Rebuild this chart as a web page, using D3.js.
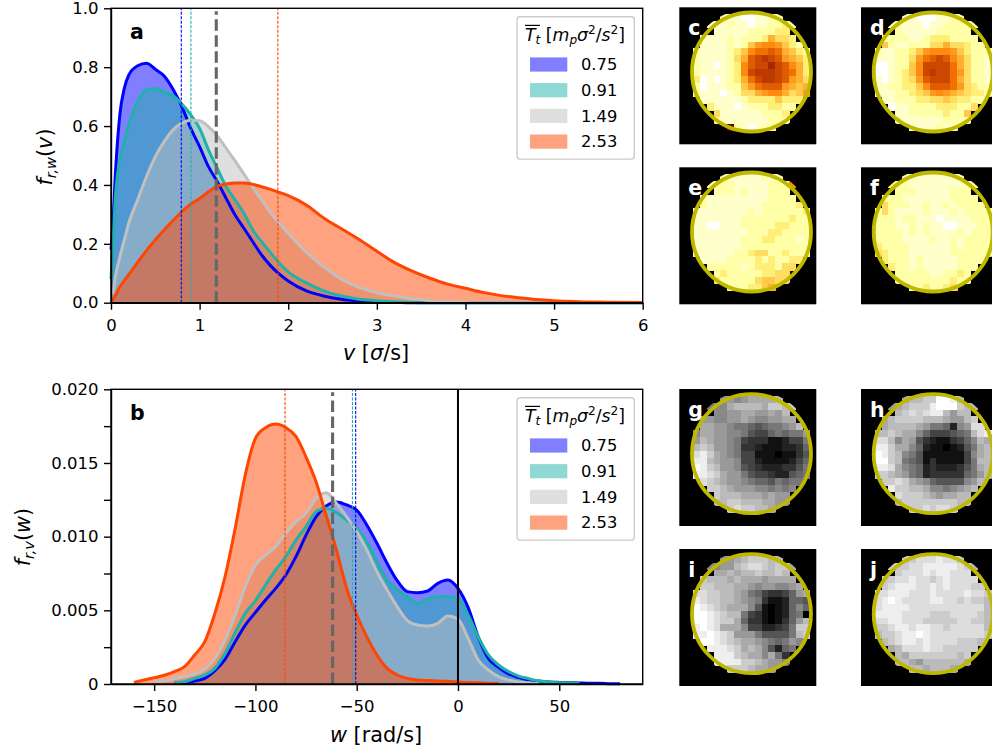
<!DOCTYPE html>
<html>
<head>
<meta charset="utf-8">
<script src="https://cdn.jsdelivr.net/npm/d3@7"></script>
<style>
  html, body { margin: 0; padding: 0; background: #fff; overflow: hidden; }
  svg { display: block; }
  text { font-family: "DejaVu Sans", sans-serif; fill: #000; }
  .axis path, .axis line { stroke: #000; stroke-width: 1.4; }
  .axis text { font-size: 16.5px; font-family: "DejaVu Sans", sans-serif; }
</style>
</head>
<body>
<div id="fig"></div>
<script>
// ############ data ############
const temps = ["0.75", "0.91", "1.49", "2.53"];
const colors = ["#0000ff", "#20b2aa", "#c0c0c0", "#ff4500"];

const vGrid = [0,0.02,0.05,0.1,0.15,0.2,0.3,0.4,0.5,0.6,0.7,0.8,0.9,1,1.1,1.2,1.3,1.4,1.5,1.6,1.7,1.8,1.9,2,2.2,2.4,2.6,2.8,3,3.2,3.4,3.6,3.8,4,4.2,4.4,4.6,4.8,5,5.5,6];
const fvBlue = [0.18,0.26,0.44,0.64,0.728,0.773,0.805,0.813,0.793,0.77,0.725,0.666,0.592,0.53,0.462,0.411,0.354,0.298,0.253,0.207,0.162,0.126,0.097,0.074,0.041,0.023,0.012,0.006,0.002,0.001,0,0,0,0,0,0,0,0,0,0,0];
const fvTeal = [0.08,0.19,0.36,0.485,0.547,0.604,0.683,0.723,0.728,0.715,0.703,0.675,0.638,0.592,0.519,0.456,0.394,0.349,0.304,0.247,0.207,0.17,0.134,0.105,0.068,0.04,0.023,0.012,0.007,0.003,0.001,0,0,0,0,0,0,0,0,0,0];
const fvGrey = [0.03,0.035,0.09,0.156,0.213,0.27,0.349,0.428,0.496,0.547,0.587,0.61,0.62,0.618,0.598,0.566,0.524,0.482,0.437,0.392,0.349,0.306,0.27,0.236,0.173,0.122,0.08,0.052,0.034,0.023,0.013,0.007,0.003,0.001,0,0,0,0,0,0,0];
const fvOrange = [0.005,0.01,0.025,0.054,0.075,0.095,0.137,0.177,0.213,0.247,0.279,0.309,0.335,0.354,0.377,0.396,0.403,0.407,0.407,0.402,0.394,0.385,0.375,0.364,0.333,0.288,0.251,0.215,0.175,0.136,0.107,0.083,0.063,0.049,0.035,0.024,0.017,0.011,0.007,0.002,0.0005];
const vMeans = [0.793, 0.902, 1.883];
const vMeanAll = 1.188;

const wGrid = [-160,-155,-150,-145,-140,-135,-130,-125,-120,-115,-110,-105,-100,-95,-90,-85,-80,-75,-70,-65,-60,-55,-50,-45,-40,-35,-30,-25,-20,-15,-10,-5,0,5,10,15,20,25,30,35,40,45,50,55,60,65,70,75,80];
// values in units of 0.001, null where the curve has no data
const fwBlue = [null,null,null,null,0.05,0.09,0.2,0.38,0.9,1.67,2.87,4,4.86,5.7,6.49,7.4,8.64,10.1,11.36,12.08,12.35,12.15,11.81,10.79,9.55,8.19,7.01,6.27,6.2,6.31,6.83,7.06,6.49,5.2,3.2,1.74,1.13,0.68,0.45,0.27,0.2,0.14,0.11,0.09,0.07,0.05,0.05,0.02,0.02];
const fwTeal = [null,null,null,null,0.09,0.16,0.38,0.61,1.06,2.08,3.48,4.8,5.66,6.72,7.74,8.64,9.77,10.68,11.7,11.92,11.63,11.13,10.56,9.66,8.3,7.06,6.38,5.93,5.47,5.77,5.93,5.93,5.81,4.68,3.2,1.97,1.29,0.84,0.54,0.36,0.2,0.14,0.09,0.07,0.02,null,null,null,null];
const fwGrey = [null,null,0.16,0.2,0.36,0.5,0.68,1,1.74,2.99,4.68,6.6,8.08,8.75,9.32,10.22,11,11.58,12.6,12.98,12.26,11.36,10.34,9.1,7.62,6.38,5.25,4.3,4,3.94,4.12,4.61,4.41,3.1,1.63,0.95,0.5,0.27,0.14,0.09,0.02,null,null,null,null,null,null,null,null];
const fwOrange = [0.11,0.27,0.43,0.59,0.84,1.18,1.97,2.87,4.8,7.28,10.56,14.2,16.67,17.4,17.64,17.4,16.8,15.4,13.7,11.4,9.1,6.5,4.7,3.2,1.97,1.06,0.61,0.38,0.27,0.23,0.2,0.18,0.14,0.1,0.08,0.05,0.03,null,null,null,null,null,null,null,null,null,null,null,null];
const wMeans = [-50.5, -52.1, -85.4];
const wMeanAll = -61.9;

const vTicks = [0, 1, 2, 3, 4, 5, 6];
const fvTicks = [0, 0.2, 0.4, 0.6, 0.8, 1];
const wTicks = [-150, -100, -50, 0, 50];
const fwTicks = [0, 0.0025, 0.005, 0.0075, 0.01, 0.0125, 0.015, 0.0175, 0.02];
const fwTickLabels = ["0", "", "0.005", "", "0.010", "", "0.015", "", "0.020"];

// cell levels 0-f, "." is an empty (black) cell
const cellsC = ["....................","......211001122.....","....1112110112232...",".....11111222233....","...11112122236443...","...111121257887532..","..21111235899a96532.","..21111246abcba7653.","..21101238abbdba863.","..21111238bcccba963.","..301012369bccba764.","..2011122579aaa7656.","..21110124467886457.","...111111233335333..","....3111012223322...",".....41111112223....",".....21111111222....",".......f210122......"];
const cellsD = ["....................","......110001122.....","....2211101122222...",".....21111122222....","...22221123332222...","...521122244644322..","..21122357888753222.","..11122479aba864221.","..0012258bbbb964221.","..0012358bcbb974221.","..1012347abbb964221.","..11223358aaa974322.","..11122345787654332.","...112223344543322..","....0112222333224...",".....11222223225....",".....21111112222....",".......1111211......"];
const cellsE = ["....................","......211111212.....","....2222111112228...",".....22212111222....","...21111111112222...","...211111111222223..","..11111111212222223.","..11111112222222322.","..11001112222233222.","..11111111222332222.","..11111112223322212.","..11111112222222222.","..11111122344223222.","...111122223232233..","....2222212333244...",".....23222223344....",".....32222245544....",".......2223356......"];
const cellsF = ["....................","......211111112.....","....3221111111122...",".....22211111222....","...22211111112222...","...422211211212222..","..24211112111212222.","..22212211101111222.","..22211212110011122.","..22221212111121222.","..22221111211212222.","..32222111111212222.","..43222111111222222.","...322212111112222..","....3221211111222...",".....22222112232....",".....22222222322....",".......2232234......"];
const cellsG = ["....................","......667655554.....","....8775444453343...",".....77665566564....","...66776656776655...","...55667889a988764..","..75566778abb989886.","..6456678bccceedbb8.","..4346678ccdeeeddc9.","..2135678bbeeefeeca.","..1145667bbdeeeedb9.","..0134667abcdddcca8.","..11235668abbcdda98.","...2345667899a8988..","....3345666778787...",".....34445556566....",".....44334445566....",".......3233445......"];
const cellsH = ["....................","......544330014.....","....6543331000344...",".....43232114644....","...54333344456643...","...5444456889d7622..","..44345579bbba98421.","..224756acdeecb9745.","..1135579deefeda854.","..013478aeeeeeeb754.","..003489aeceeeeb844.","..1125789dcdddca854.","..3345689dccccc9864.","...33235679aaaa764..","....1334457787654...",".....23334565544....",".....43333333344....",".......3323223......"];
const cellsI = ["....................","......665433344.....","....7766432234335...",".....55454434434....","...34445455565555...","...334445567667765..","..2233445689bccb965.","..1233445678ceed99a.","..012345557aefed979.","..00123448bcefed98f.","..00123359ccefec964.","..10125557bbddcb833.","..1101236668aaaa843.","...001234556789867..","....111235457ad98...",".....1113455758c....",".....11113345667....",".......3334556......"];
const cellsJ = ["....................","......332221223.....","....3332211111234...",".....32221211222....","...33221223212222...","...321112212122233..","..22111222122221223.","..21012222112232334.","..21111222222222224.","..11112222333222234.","..22112223333322334.","..33211211223222224.","..43321101222222223.","...432112122223334..","....5422212233333...",".....45333333343....",".....44564444445....",".......4454445......"];

// colour of each cell level in the yellow maps
const heatStops = ["#ffffff","#ffffcc","#ffffa8","#ffee78","#ffdd60","#ffc848","#ffb030","#ff9a20","#ff8a10","#f07000","#e05c00","#cc4800","#bb3a00","#a82800","#901000","#600000"];

// ############ figure ############
const svg = d3.select("#fig").append("svg")
  .attr("width", 992)
  .attr("height", 756)
  .attr("viewBox", "0 0 992 756");

// writes one line of math style text, parts are [string, "i"/"", "sub"/"sup"/""]
function mathText(parent, x, y, size, parts, anchor) {
  const t = parent.append("text")
    .attr("x", x).attr("y", y)
    .attr("text-anchor", anchor || "start")
    .style("font-size", size + "px");
  let shift = 0;
  parts.forEach(function(p) {
    let target = 0;
    if (p[2] === "sub") target = 0.2 * size;
    if (p[2] === "sup") target = -0.4 * size;
    t.append("tspan")
      .attr("dy", target - shift)
      .style("font-style", p[1] === "i" ? "italic" : "normal")
      .style("font-size", (p[2] ? size * 0.7 : size) + "px")
      .text(p[0]);
    shift = target;
  });
  return t;
}

function drawLegend(g, top) {
  g.append("rect")
    .attr("x", 517).attr("y", top)
    .attr("width", 117.3).attr("height", 142.3)
    .attr("rx", 3)
    .attr("fill", "#fff").attr("fill-opacity", 0.8)
    .attr("stroke", "#ccc").attr("stroke-width", 1.4);
  mathText(g, 525, top + 24, 17.3, [
    ["T", "i", ""], ["t", "i", "sub"], [" [", "", ""], ["m", "i", ""], ["p", "i", "sub"],
    ["σ", "i", ""], ["2", "", "sup"], ["/", "", ""], ["s", "i", ""], ["2", "", "sup"], ["]", "", ""]
  ]);
  g.append("line")
    .attr("x1", 525).attr("x2", 540)
    .attr("y1", top + 8.6).attr("y2", top + 8.6)
    .attr("stroke", "#000").attr("stroke-width", 1.2);
  temps.forEach(function(d, i) {
    const y = top + 40.6 + i * 25.7;
    g.append("rect")
      .attr("x", 530).attr("y", y)
      .attr("width", 37.3).attr("height", 14.2)
      .attr("fill", colors[i]).attr("fill-opacity", 0.5);
    g.append("text")
      .attr("x", 581).attr("y", y + 12.8)
      .style("font-size", "16.3px")
      .text(d);
  });
}

function drawPanel(opts) {
  const g = svg.append("g");
  const x = opts.x, y = opts.y;

  const area = d3.area()
    .defined(function(d) { return d[1] !== null; })
    .curve(d3.curveMonotoneX)
    .x(function(d) { return x(d[0]); })
    .y0(y(0))
    .y1(function(d) { return y(d[1]); });
  const line = d3.line()
    .defined(function(d) { return d[1] !== null; })
    .curve(d3.curveMonotoneX)
    .x(function(d) { return x(d[0]); })
    .y(function(d) { return y(d[1]); });

  const pts = opts.series.map(function(s) {
    return opts.grid.map(function(d, i) {
      return [d, s[i] === null ? null : s[i] * opts.scale];
    });
  });

  pts.forEach(function(p, i) {
    g.append("path").attr("d", area(p))
      .attr("fill", colors[i]).attr("fill-opacity", 0.5);
  });
  pts.forEach(function(p, i) {
    g.append("path").attr("d", line(p))
      .attr("fill", "none")
      .attr("stroke", colors[i])
      .attr("stroke-width", 3)
      .attr("stroke-linejoin", "round");
  });

  // means of each series, the grey one is not drawn in this figure
  opts.means.forEach(function(m, i) {
    g.append("line")
      .attr("x1", x(m)).attr("x2", x(m))
      .attr("y1", y.range()[0]).attr("y2", y.range()[1])
      .attr("stroke", colors[i === 2 ? 3 : i])
      .attr("stroke-width", 1.1)
      .attr("stroke-dasharray", "3,1.5");
  });
  g.append("line")
    .attr("x1", x(opts.meanAll)).attr("x2", x(opts.meanAll))
    .attr("y1", y.range()[0]).attr("y2", y.range()[1] + 3)
    .attr("stroke", "#666")
    .attr("stroke-width", 3.1)
    .attr("stroke-dasharray", "11.5,4.5");

  if (opts.zeroLine) {
    g.append("line")
      .attr("x1", x(0)).attr("x2", x(0))
      .attr("y1", y.range()[0]).attr("y2", y.range()[1])
      .attr("stroke", "#000").attr("stroke-width", 2);
  }

  g.append("rect")
    .attr("x", x.range()[0]).attr("y", y.range()[1])
    .attr("width", x.range()[1] - x.range()[0])
    .attr("height", y.range()[0] - y.range()[1])
    .attr("fill", "none")
    .attr("stroke", "#000").attr("stroke-width", 1.4);

  g.append("g").attr("class", "axis")
    .attr("transform", "translate(0," + y.range()[0] + ")")
    .call(d3.axisBottom(x).tickValues(opts.xTicks).tickSize(7).tickPadding(9.5).tickSizeOuter(0).tickFormat(d3.format("d")));
  g.append("g").attr("class", "axis")
    .attr("transform", "translate(" + x.range()[0] + ",0)")
    .call(d3.axisLeft(y).tickValues(opts.yTicks).tickSize(7).tickPadding(5.5).tickSizeOuter(0).tickFormat(opts.yFormat));

  g.append("text")
    .attr("x", 130).attr("y", y.range()[1] + 31)
    .style("font-size", "20.5px").style("font-weight", "bold")
    .text(opts.letter);

  drawLegend(g, y.range()[1] + 8.5);
  return g;
}

const panelA = drawPanel({
  letter: "a",
  x: d3.scaleLinear().domain([0, 6]).range([111, 642.7]),
  y: d3.scaleLinear().domain([0, 1]).range([302.7, 8.3]),
  grid: vGrid,
  series: [fvBlue, fvTeal, fvGrey, fvOrange],
  scale: 1,
  means: vMeans,
  meanAll: vMeanAll,
  xTicks: vTicks,
  yTicks: fvTicks,
  yFormat: d3.format(".1f")
});
mathText(panelA, 376, 360, 20.8, [["v", "i", ""], [" [", "", ""], ["σ", "i", ""], ["/s]", "", ""]], "middle");
mathText(panelA, 0, 0, 20.8, [["f", "i", ""], ["r,w", "i", "sub"], ["(", "", ""], ["v", "i", ""], [")", "", ""]], "middle")
  .attr("transform", "translate(52,157) rotate(-90)");

const panelB = drawPanel({
  letter: "b",
  x: d3.scaleLinear().domain([-171.3, 91.2]).range([111, 642.7]),
  y: d3.scaleLinear().domain([0, 0.02]).range([684, 389.3]),
  grid: wGrid,
  series: [fwBlue, fwTeal, fwGrey, fwOrange],
  scale: 0.001,
  means: wMeans,
  meanAll: wMeanAll,
  zeroLine: true,
  xTicks: wTicks,
  yTicks: fwTicks,
  yFormat: function(d, i) { return fwTickLabels[i]; }
});
mathText(panelB, 376, 742, 20.8, [["w", "i", ""], [" [rad/s]", "", ""]], "middle");
mathText(panelB, 0, 0, 20.8, [["f", "i", ""], ["r,v", "i", "sub"], ["(", "", ""], ["w", "i", ""], [")", "", ""]], "middle")
  .attr("transform", "translate(30,537) rotate(-90)");

// ############ density maps ############
const boxSize = 137;
const yellowScale = d3.scaleLinear().domain(d3.range(16)).range(heatStops);
const greyScale = d3.scaleLinear().domain([0, 15]).range(["#ffffff", "#000000"]);
const rowIds = d3.range(18);
const colIds = d3.range(20);
let mapCount = 0;

function drawMap(letter, cells, left, top, scale) {
  const g = svg.append("g");
  g.append("rect")
    .attr("x", left).attr("y", top)
    .attr("width", boxSize).attr("height", boxSize)
    .attr("fill", "#000");

  const cx = d3.scaleBand().domain(colIds).range([left, left + boxSize]);
  const cy = d3.scaleBand().domain(d3.range(20)).range([top, top + boxSize]);

  // cells only poke a little past the ring
  const clipId = "map-clip-" + mapCount++;
  svg.append("clipPath").attr("id", clipId)
    .append("circle")
    .attr("cx", left + 72.2).attr("cy", top + 64.7)
    .attr("r", 63.5);

  const cellG = g.append("g").attr("clip-path", "url(#" + clipId + ")");
  rowIds.forEach(function(r) {
    const row = cells[r].split("");
    cellG.selectAll(null)
      .data(colIds.filter(function(c) { return row[c] !== "."; }))
      .enter().append("rect")
      .attr("x", function(c) { return cx(c); })
      .attr("y", cy(r))
      .attr("width", cx.bandwidth() + 0.6)
      .attr("height", cy.bandwidth() + 0.6)
      .attr("shape-rendering", "crispEdges")
      .attr("fill", function(c) { return scale(parseInt(row[c], 16)); });
  });

  g.append("circle")
    .attr("cx", left + 72.2).attr("cy", top + 64.7)
    .attr("r", 59.5)
    .attr("fill", "none")
    .attr("stroke", "#bfb800")
    .attr("stroke-width", 3.8);

  g.append("text")
    .attr("x", left + 9).attr("y", top + 27.7)
    .style("font-size", "20.5px").style("font-weight", "bold")
    .style("fill", "#fff")
    .text(letter);
}

drawMap("c", cellsC, 679.3, 7.3, yellowScale);
drawMap("d", cellsD, 861, 7.3, yellowScale);
drawMap("e", cellsE, 679.3, 167.3, yellowScale);
drawMap("f", cellsF, 861, 167.3, yellowScale);
drawMap("g", cellsG, 679.3, 389, greyScale);
drawMap("h", cellsH, 861, 389, greyScale);
drawMap("i", cellsI, 679.3, 549, greyScale);
drawMap("j", cellsJ, 861, 549, greyScale);
</script>
</body>
</html>
